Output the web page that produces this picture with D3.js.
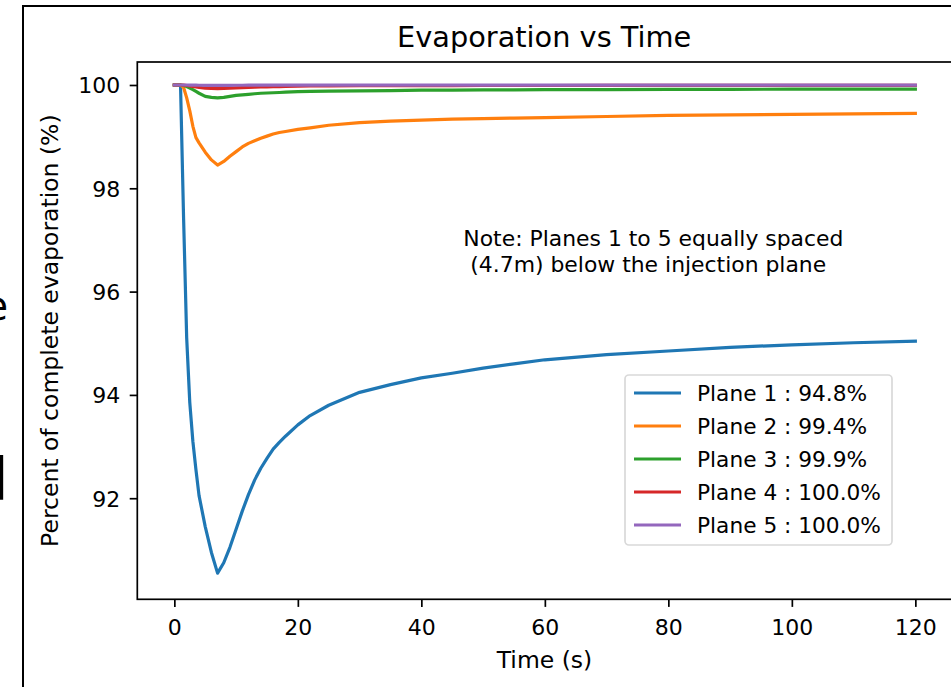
<!DOCTYPE html>
<html>
<head>
<meta charset="utf-8">
<script src="https://cdn.jsdelivr.net/npm/d3@7/dist/d3.min.js"></script>
<style>
  html, body { margin: 0; padding: 0; background: #fff; }
  svg { display: block; font-family: "DejaVu Sans", sans-serif; }
</style>
</head>
<body>
<svg id="chart" width="951" height="687"></svg>
<script>
// ---- data ----
const times  = [0,1,1.5,2,2.5,3,3.5,4,5,6,7,8,9,10,11,12,13,14,15,16,17,18,20,22,25,30,35,40,45,50,55,60,70,80,90,100,110,120];
const plane1 = [100,100,97.4,95.1,93.85,93.1,92.55,92.05,91.45,90.95,90.55,90.75,91.05,91.4,91.75,92.07,92.35,92.58,92.77,92.95,93.08,93.2,93.42,93.6,93.8,94.05,94.2,94.33,94.42,94.52,94.6,94.68,94.78,94.85,94.92,94.97,95.01,95.04];
const plane2 = [100,100,99.95,99.75,99.5,99.2,98.98,98.88,98.7,98.55,98.45,98.52,98.62,98.71,98.8,98.87,98.92,98.97,99.01,99.05,99.08,99.1,99.14,99.17,99.22,99.27,99.3,99.32,99.34,99.35,99.36,99.37,99.39,99.41,99.42,99.43,99.44,99.45];
const plane3 = [100,100,99.99,99.97,99.94,99.91,99.875,99.84,99.78,99.76,99.75,99.76,99.78,99.8,99.81,99.82,99.83,99.84,99.845,99.85,99.855,99.86,99.87,99.875,99.88,99.885,99.89,99.9,99.9,99.905,99.905,99.91,99.91,99.915,99.915,99.92,99.92,99.92];
const plane4 = [100,100,99.998,99.99,99.98,99.97,99.962,99.955,99.94,99.935,99.93,99.935,99.94,99.945,99.95,99.955,99.96,99.965,99.965,99.97,99.97,99.975,99.978,99.98,99.982,99.985,99.987,99.988,99.989,99.99,99.99,99.99,99.991,99.992,99.992,99.993,99.993,99.994];
const plane5 = [100,100,100,100,99.999,99.998,99.996,99.995,99.993,99.992,99.992,99.993,99.994,99.995,99.995,99.996,99.996,99.996,99.997,99.997,99.997,99.997,99.998,99.998,99.998,99.998,99.998,99.999,99.999,99.999,99.999,99.999,99.999,99.999,99.999,99.999,99.999,99.999];
const seriesNames = ["Plane 1 : 94.8%","Plane 2 : 99.4%","Plane 3 : 99.9%","Plane 4 : 100.0%","Plane 5 : 100.0%"];
const seriesColors = ["#1f77b4","#ff7f0e","#2ca02c","#d62728","#9467bd"];
const xTicks = [0,20,40,60,80,100,120];
const yTicks = [92,94,96,98,100];
const titleText = "Evaporation vs Time";
const xLabel = "Time (s)";
const yLabel = "Percent of complete evaporation (%)";
const noteLines = ["Note: Planes 1 to 5 equally spaced", " (4.7m) below the injection plane"];

const allSeries = [plane1, plane2, plane3, plane4, plane5];

// ---- layout ----
const svg = d3.select("#chart");
const plot = { left: 137.3, right: 952.4, top: 62, bottom: 599.3 };

const x = d3.scaleLinear().domain([-6, 126]).range([plot.left, plot.right]);
const y = d3.scaleLinear().domain([90.043, 100.445]).range([plot.bottom, plot.top]);

// outer frame fragments (cropped screenshot)
svg.append("line").attr("x1", 23).attr("x2", 23).attr("y1", 5).attr("y2", 687)
  .attr("stroke", "#000").attr("stroke-width", 2);
svg.append("line").attr("x1", 22).attr("x2", 951).attr("y1", 6).attr("y2", 6)
  .attr("stroke", "#000").attr("stroke-width", 2);
// cropped text fragments at the left edge (they are cut off in the reference too)
svg.append("text").attr("x", -16.5).attr("y", 320).attr("font-size", 40).attr("fill", "#000").text("e");
svg.append("text").attr("x", -7.5).attr("y", 500).attr("font-size", 58).attr("fill", "#000").text("l");

// clip
svg.append("clipPath").attr("id", "clip").append("rect")
  .attr("x", plot.left).attr("y", plot.top)
  .attr("width", plot.right - plot.left).attr("height", plot.bottom - plot.top);

// lines
const line = d3.line().x((d, i) => x(times[i])).y(d => y(d));
const gLines = svg.append("g").attr("clip-path", "url(#clip)");
allSeries.forEach((s, k) => {
  gLines.append("path").datum(s)
    .attr("d", line)
    .attr("fill", "none")
    .attr("stroke", seriesColors[k])
    .attr("stroke-width", 3.2)
    .attr("stroke-linejoin", "round")
    .attr("stroke-linecap", "square");
});

// axes
const xAxis = d3.axisBottom(x).tickValues(xTicks).tickSize(7.6).tickPadding(6).tickFormat(d3.format("d"));
const yAxis = d3.axisLeft(y).tickValues(yTicks).tickSize(7.6).tickPadding(8).tickFormat(d3.format("d"));

const gx = svg.append("g").attr("transform", `translate(0,${plot.bottom})`).call(xAxis);
const gy = svg.append("g").attr("transform", `translate(${plot.left},0)`).call(yAxis);
[gx, gy].forEach(g => {
  g.select(".domain").remove();
  g.selectAll(".tick line").attr("stroke", "#000").attr("stroke-width", 1.7);
  g.selectAll(".tick text").attr("font-size", 22).attr("fill", "#000")
    .attr("font-family", "DejaVu Sans, sans-serif");
});
gx.selectAll(".tick text").attr("dy", null).attr("y", 35.5);
gy.selectAll(".tick text").attr("dy", "0.36em").attr("x", -17);

// spines
svg.append("rect")
  .attr("x", plot.left).attr("y", plot.top)
  .attr("width", plot.right - plot.left).attr("height", plot.bottom - plot.top)
  .attr("fill", "none").attr("stroke", "#000").attr("stroke-width", 1.7);

// title & labels
svg.append("text").attr("x", (plot.left + 951) / 2).attr("y", 47)
  .attr("text-anchor", "middle").attr("font-size", 28.8).attr("fill", "#000").text(titleText);
svg.append("text").attr("x", 544.5).attr("y", 668)
  .attr("text-anchor", "middle").attr("font-size", 23.5).attr("fill", "#000").text(xLabel);
svg.append("text")
  .attr("transform", `translate(58,${(plot.top + plot.bottom) / 2}) rotate(-90)`)
  .attr("text-anchor", "middle").attr("font-size", 23.5).attr("fill", "#000").text(yLabel);

// note
const note = svg.append("text").attr("font-size", 21.9).attr("fill", "#000")
  .attr("xml:space", "preserve").style("white-space", "pre");
noteLines.forEach((t, i) => {
  note.append("tspan").attr("x", x(46.8)).attr("y", y(96.88) + i * 25.5).text(t);
});

// legend
const leg = { x: 625, y: 375, w: 267, h: 170, row0: 393, rowStep: 33 };
svg.append("rect").attr("x", leg.x).attr("y", leg.y).attr("width", leg.w).attr("height", leg.h)
  .attr("rx", 4).attr("fill", "#fff").attr("fill-opacity", 0.8)
  .attr("stroke", "#d9d9d9").attr("stroke-width", 1.7);
seriesNames.forEach((name, k) => {
  const cy = leg.row0 + k * leg.rowStep;
  svg.append("line").attr("x1", 634).attr("x2", 681).attr("y1", cy).attr("y2", cy)
    .attr("stroke", seriesColors[k]).attr("stroke-width", 3.2);
  svg.append("text").attr("x", 697).attr("y", cy).attr("dy", "0.36em")
    .attr("font-size", 21.7).attr("fill", "#000").text(name);
});
</script>
</body>
</html>
